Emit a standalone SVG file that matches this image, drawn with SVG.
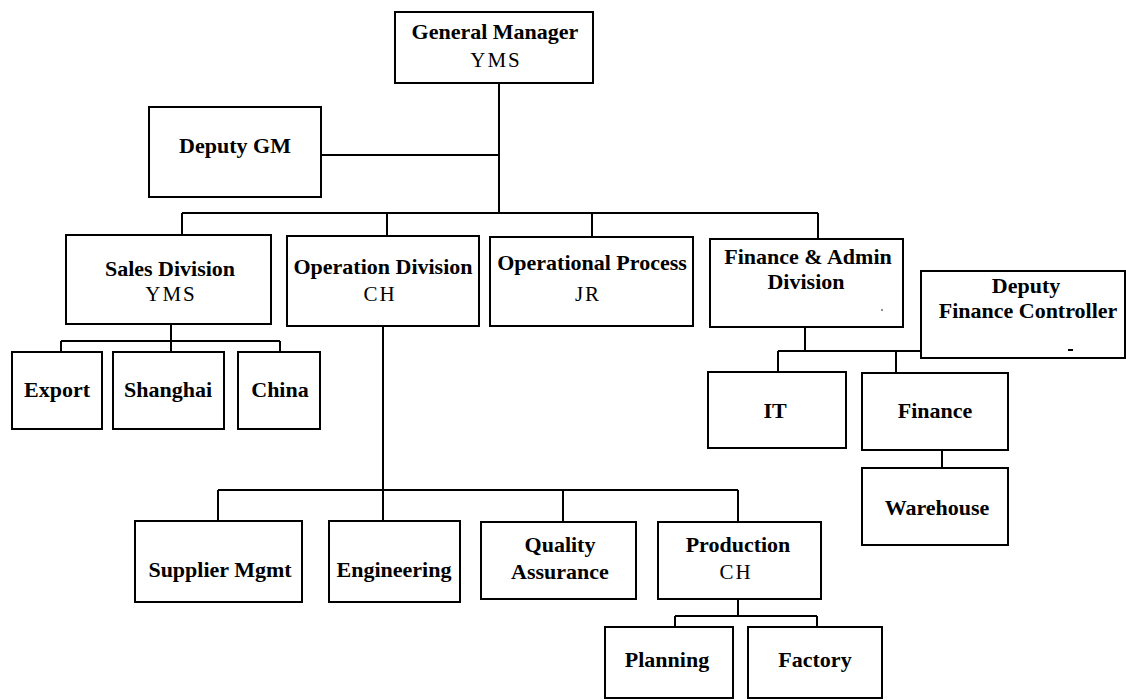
<svg xmlns="http://www.w3.org/2000/svg" width="1126" height="700" viewBox="0 0 1126 700">
  <style>
    .box { fill: #ffffff; stroke: #000000; stroke-width: 2; }
    .wire { fill: none; stroke: #000000; stroke-width: 2; }
    .t { font-family: "Liberation Serif", "Times New Roman", serif; font-size: 22px; font-weight: bold; fill: #000000; text-anchor: middle; }
    .s { font-family: "Liberation Serif", "Times New Roman", serif; font-size: 21px; font-weight: normal; fill: #000000; text-anchor: middle; letter-spacing: 2px; }
  </style>
  <rect width="1126" height="700" fill="#ffffff"/>

  <g id="connectors">
    <!-- general manager to the division bus -->
    <path class="wire" d="M499 83 V213"/>
    <path class="wire" d="M321 155 H499"/>
    <path class="wire" d="M182 213 H818"/>
    <path class="wire" d="M182 213 V235 M387 213 V236 M592 213 V237 M818 213 V239"/>
    <!-- sales offices -->
    <path class="wire" d="M171 324 V341 M61 341 H280 M61 341 V352 M171 341 V352 M280 341 V352"/>
    <!-- operation division departments -->
    <path class="wire" d="M383 326 V521 M218 490 H738 M218 490 V521 M563 490 V522 M738 490 V522"/>
    <!-- production units -->
    <path class="wire" d="M738 599 V616 M675 616 H817 M675 616 V627 M817 616 V627"/>
    <!-- finance and admin departments -->
    <path class="wire" d="M805 327 V351 M778 351 H921 M778 351 V372 M896 351 V373 M942 450 V468"/>
  </g>

  <g id="general-manager">
    <rect class="box" x="395" y="12" width="198" height="71"/>
    <text class="t" x="495" y="39">General Manager</text>
    <text class="s" x="496" y="67">YMS</text>
  </g>

  <g id="deputy-gm">
    <rect class="box" x="149" y="107" width="172" height="90"/>
    <text class="t" x="235" y="153">Deputy GM</text>
  </g>

  <g id="sales-division">
    <rect class="box" x="66" y="235" width="205" height="89"/>
    <text class="t" x="170" y="276">Sales Division</text>
    <text class="s" x="171" y="301">YMS</text>
  </g>

  <g id="operation-division">
    <rect class="box" x="287" y="236" width="192" height="90"/>
    <text class="t" x="383" y="274">Operation Division</text>
    <text class="s" x="380" y="301">CH</text>
  </g>

  <g id="operational-process">
    <rect class="box" x="490" y="237" width="203" height="89"/>
    <text class="t" x="592" y="270">Operational Process</text>
    <text class="s" x="588" y="301">JR</text>
  </g>

  <g id="finance-admin-division">
    <rect class="box" x="710" y="239" width="193" height="88"/>
    <text class="t" x="808" y="264">Finance &amp; Admin</text>
    <text class="t" x="806" y="289">Division</text>
    <circle cx="882" cy="310" r="0.8" fill="#000000"/>
  </g>

  <g id="deputy-finance-controller">
    <rect class="box" x="921" y="271" width="204" height="87"/>
    <text class="t" x="1026" y="293">Deputy</text>
    <text class="t" x="1028" y="318">Finance Controller</text>
    <path class="wire" d="M1068 350 H1073"/>
  </g>

  <g id="export">
    <rect class="box" x="12" y="352" width="90" height="77"/>
    <text class="t" x="57" y="397">Export</text>
  </g>

  <g id="shanghai">
    <rect class="box" x="113" y="352" width="111" height="77"/>
    <text class="t" x="168" y="397">Shanghai</text>
  </g>

  <g id="china">
    <rect class="box" x="238" y="352" width="82" height="77"/>
    <text class="t" x="280" y="397">China</text>
  </g>

  <g id="it">
    <rect class="box" x="708" y="372" width="138" height="76"/>
    <text class="t" x="775" y="418">IT</text>
  </g>

  <g id="finance">
    <rect class="box" x="862" y="373" width="146" height="77"/>
    <text class="t" x="935" y="418">Finance</text>
  </g>

  <g id="warehouse">
    <rect class="box" x="862" y="468" width="146" height="77"/>
    <text class="t" x="937" y="515">Warehouse</text>
  </g>

  <g id="supplier-mgmt">
    <rect class="box" x="135" y="521" width="167" height="81"/>
    <text class="t" x="220" y="577">Supplier Mgmt</text>
  </g>

  <g id="engineering">
    <rect class="box" x="329" y="521" width="131" height="81"/>
    <text class="t" x="394" y="577">Engineering</text>
  </g>

  <g id="quality-assurance">
    <rect class="box" x="481" y="522" width="155" height="77"/>
    <text class="t" x="560" y="552">Quality</text>
    <text class="t" x="560" y="579">Assurance</text>
  </g>

  <g id="production">
    <rect class="box" x="658" y="522" width="163" height="77"/>
    <text class="t" x="738" y="552">Production</text>
    <text class="s" x="736" y="579">CH</text>
  </g>

  <g id="planning">
    <rect class="box" x="605" y="627" width="128" height="71"/>
    <text class="t" x="667" y="667">Planning</text>
  </g>

  <g id="factory">
    <rect class="box" x="748" y="627" width="134" height="71"/>
    <text class="t" x="815" y="667">Factory</text>
  </g>
</svg>
